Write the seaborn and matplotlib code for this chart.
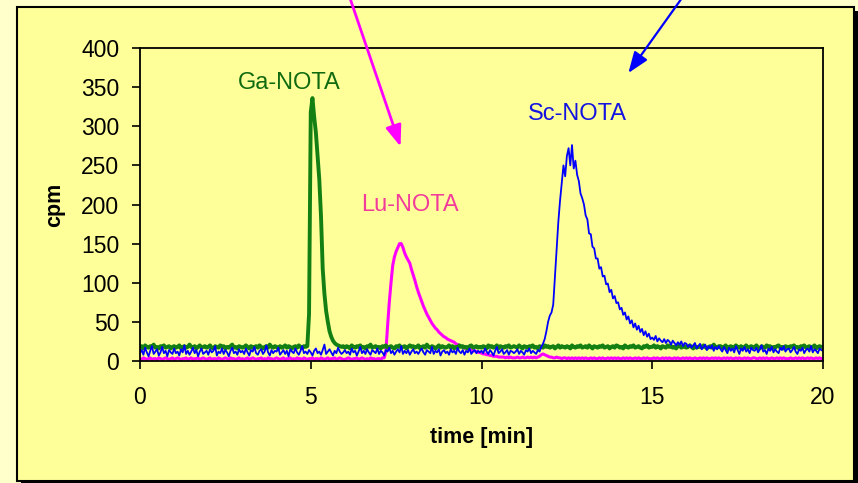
import numpy as np
import pandas as pd
import matplotlib
matplotlib.use("Agg")
import matplotlib.pyplot as plt
from matplotlib.patches import Rectangle
import seaborn as sns

# ---- data (cpm sampled every 0.05 min, one row per minute) ----
time_step = 0.05
ga_nota = [
    17,19,16,20,18,17,19,18,21,17,18,16,19,18,20,17,18,19,16,18,
    19,17,18,20,16,18,19,17,18,21,18,17,19,16,18,20,17,18,19,17,
    18,20,17,16,19,18,17,20,18,19,16,18,17,19,21,17,18,16,19,18,
    17,18,20,18,16,19,17,18,19,17,20,18,16,18,19,17,21,18,17,19,
    18,16,19,17,18,20,17,19,18,16,18,19,17,20,18,17,19,18,19,60,
    318,336,312,292,262,232,185,118,86,64,50,38,31,26,23,21,20,19,18,19,
    17,19,18,16,20,18,17,19,18,20,17,18,16,19,18,21,17,18,19,17,
    18,16,19,18,20,17,18,19,17,16,19,18,20,17,18,19,16,18,20,18,
    19,17,18,20,16,18,19,17,21,18,17,19,18,16,18,20,17,19,18,17,
    18,20,17,19,16,18,17,20,18,19,17,18,16,19,20,17,18,19,17,18,
    17,19,18,16,20,18,19,17,18,20,16,19,18,17,19,18,20,17,18,19,
    18,17,20,18,16,19,18,17,19,18,20,17,18,16,19,18,17,20,18,19,
    17,18,19,16,18,20,17,19,18,17,19,18,16,20,18,17,19,18,20,17,
    18,19,17,20,18,16,19,18,17,19,18,20,17,18,19,16,18,19,17,20,
    19,17,18,16,20,18,17,19,18,20,17,18,19,17,16,19,18,20,17,18,
    18,20,17,19,18,16,19,18,17,20,18,19,17,18,16,19,20,17,18,19,
    17,18,20,18,16,19,17,18,19,17,20,18,16,18,19,17,21,18,17,19,
    19,17,18,20,16,18,19,17,18,20,18,17,19,16,18,20,17,18,19,17,
    18,20,17,16,19,18,17,20,18,19,16,18,17,19,20,17,18,16,19,18,
    17,19,18,20,17,18,16,19,18,20,17,18,19,17,18,20,16,18,19,18,
    18,
]
lu_nota = [
    3,2,4,3,2,3,4,2,3,3,2,4,3,2,3,4,3,2,3,4,
    2,3,4,3,2,3,3,4,2,3,4,2,3,3,4,2,3,4,3,2,
    3,4,2,3,3,2,4,3,2,3,4,3,2,4,3,3,2,3,4,2,
    3,2,3,4,2,3,4,3,2,3,3,4,2,3,2,4,3,3,2,3,
    4,3,2,3,4,2,3,3,4,2,3,2,4,3,3,2,4,3,2,3,
    3,4,2,3,3,2,4,3,2,3,4,2,3,3,4,2,3,4,3,2,
    2,3,4,3,2,3,3,4,2,3,4,3,2,3,2,4,3,3,2,3,
    3,2,4,4,12,45,75,100,122,133,140,145,150,150,145,138,133,129,125,117,
    110,103,95,88,82,76,70,65,60,56,52,48,45,42,40,37,35,33,31,30,
    28,27,26,25,24,22,21,20,19,18,17,16,15,15,14,13,13,12,11,11,
    10,9,9,8,8,7,7,6,6,6,5,5,5,5,4,5,4,5,4,4,
    4,5,4,4,5,4,4,5,4,5,4,5,4,5,6,8,9,8,7,6,
    5,5,4,4,5,4,4,3,4,4,3,4,3,4,3,4,3,4,3,4,
    3,4,3,3,4,3,4,3,3,4,3,4,3,3,4,3,4,3,4,3,
    4,3,3,4,3,4,3,4,3,3,4,3,4,3,3,4,3,4,3,3,
    3,4,3,4,3,3,4,3,4,3,4,3,3,4,3,4,3,3,4,3,
    4,3,4,3,3,4,3,3,4,3,4,3,4,3,3,4,3,4,3,4,
    3,3,4,3,4,3,4,3,3,4,3,4,3,3,4,3,4,3,3,4,
    4,3,3,4,3,4,3,4,3,3,4,3,3,4,3,4,3,4,3,3,
    3,4,3,3,4,3,4,3,4,3,3,4,3,4,3,3,4,3,4,3,
    3,
]
sc_nota = [
    10,14,8,17,11,6,13,19,9,12,15,7,11,18,10,13,6,14,11,9,
    16,10,12,7,15,11,20,9,13,8,12,17,10,14,6,12,16,9,11,13,
    8,15,11,13,19,7,12,10,16,9,14,11,6,13,17,10,12,8,15,11,
    13,9,16,11,7,14,12,18,10,8,13,15,9,12,20,11,7,14,10,13,
    12,17,8,11,14,9,13,6,15,12,10,16,11,8,13,19,10,12,9,14,
    11,7,13,16,10,12,8,14,21,9,12,15,11,7,13,10,17,12,9,11,
    14,10,12,8,16,11,13,7,12,18,10,13,9,15,11,8,14,12,10,16,
    9,13,11,7,14,12,17,10,13,8,12,15,11,19,9,13,10,14,8,12,
    15,10,12,9,13,16,11,8,14,12,10,18,9,13,11,15,7,12,14,10,
    12,8,15,11,13,9,17,12,10,14,8,13,11,16,9,12,14,10,13,11,
    13,10,16,12,9,14,11,7,13,18,10,12,15,9,11,14,8,13,12,10,
    12,15,9,13,11,8,14,12,16,10,13,11,9,14,12,18,22,28,38,50,
    58,62,72,108,145,178,205,228,250,236,262,272,250,276,246,256,238,230,214,208,
    200,186,181,163,162,146,144,131,131,118,120,108,109,98,99,88,91,80,83,74,
    75,66,68,59,62,53,57,48,52,43,48,40,45,37,41,33,38,31,35,28,
    30,27,32,25,29,26,24,28,23,27,25,21,26,23,20,24,21,25,19,23,
    22,18,21,17,20,23,16,19,22,15,18,21,14,19,16,20,13,18,15,19,
    15,12,18,14,10,17,13,16,11,19,14,9,16,13,18,12,15,10,17,14,
    13,17,11,15,20,12,14,9,16,13,18,11,15,12,10,17,14,19,12,15,
    16,11,14,18,12,9,15,13,17,10,14,16,12,19,11,15,13,10,16,14,
    13,
]
x_ticks = [0, 5, 10, 15, 20]
y_ticks = [0, 50, 100, 150, 200, 250, 300, 350, 400]
peak_labels = ["Ga-NOTA", "Lu-NOTA", "Sc-NOTA"]

t = np.round(np.arange(len(ga_nota)) * time_step, 3)
df = pd.DataFrame({"time": t, "Ga": ga_nota, "Lu": lu_nota, "Sc": sc_nota})

plt.rcParams["font.family"] = ["Liberation Sans", "DejaVu Sans"]

W, H = 858, 483
fig = plt.figure(figsize=(W / 100, H / 100), dpi=100)
fig.patch.set_facecolor("#FFFFCC")

def px(x0, y0, x1, y1):
    return (x0 / W, 1 - y1 / H, (x1 - x0) / W, (y1 - y0) / H)

bx = px(21, 11, 858, 487)
fig.patches.append(Rectangle(bx[:2], bx[2], bx[3], transform=fig.transFigure,
                             facecolor="black", edgecolor="none", zorder=-20))
bx = px(17, 7, 854, 481)
fig.patches.append(Rectangle(bx[:2], bx[2], bx[3], transform=fig.transFigure,
                             facecolor="#FFFF99", edgecolor="black", lw=1.5, zorder=-10))

ax = fig.add_axes(px(140, 48, 823, 361))
ax.set_zorder(5)
ax.set_facecolor("#FFFF99")

sns.lineplot(data=df, x="time", y="Lu", ax=ax, color="#FF00FF", lw=2.2)
sns.lineplot(data=df, x="time", y="Ga", ax=ax, color="#148014", lw=2.8)
sns.lineplot(data=df, x="time", y="Sc", ax=ax, color="#0000FF", lw=1.3)

ax.set_xlim(0, 20)
ax.set_ylim(0, 400)
ax.set_xticks(x_ticks)
ax.set_yticks(y_ticks)
ax.tick_params(axis="both", direction="out", length=6, width=1.2, labelsize=16.5,
               colors="black")
ax.tick_params(axis="x", pad=12)
ax.tick_params(axis="y", pad=9)
for s in ax.spines.values():
    s.set_color("black")
    s.set_linewidth(1.3)

ax.set_xlabel("time [min]", fontsize=15.5, fontweight="bold")
ax.set_ylabel("cpm", fontsize=15.5, fontweight="bold")
ax.xaxis.set_label_coords(0.5, -0.21)
ax.yaxis.set_label_coords(-0.11, 0.5)

ax.text(4.36, 355, peak_labels[0], color="#106A10", fontsize=17, ha="center", va="center")
ax.text(7.9, 199, peak_labels[1], color="#F23C9C", fontsize=17, ha="center", va="center")
ax.text(12.81, 316, peak_labels[2], color="#1414E0", fontsize=17, ha="center", va="center")

ax.annotate("", xy=(7.63, 274), xytext=(6.10, 470), annotation_clip=False,
            arrowprops=dict(arrowstyle="-|>,head_length=0.8,head_width=0.3",
                            color="#FF00FF", lw=2.0, mutation_scale=16,
                            shrinkA=0, shrinkB=0))
ax.annotate("", xy=(14.30, 368), xytext=(15.97, 470), annotation_clip=False,
            arrowprops=dict(arrowstyle="-|>,head_length=0.8,head_width=0.3",
                            color="#0000FF", lw=1.6, mutation_scale=16,
                            shrinkA=0, shrinkB=0))

fig.savefig("out.png", dpi=100, facecolor=fig.get_facecolor())
